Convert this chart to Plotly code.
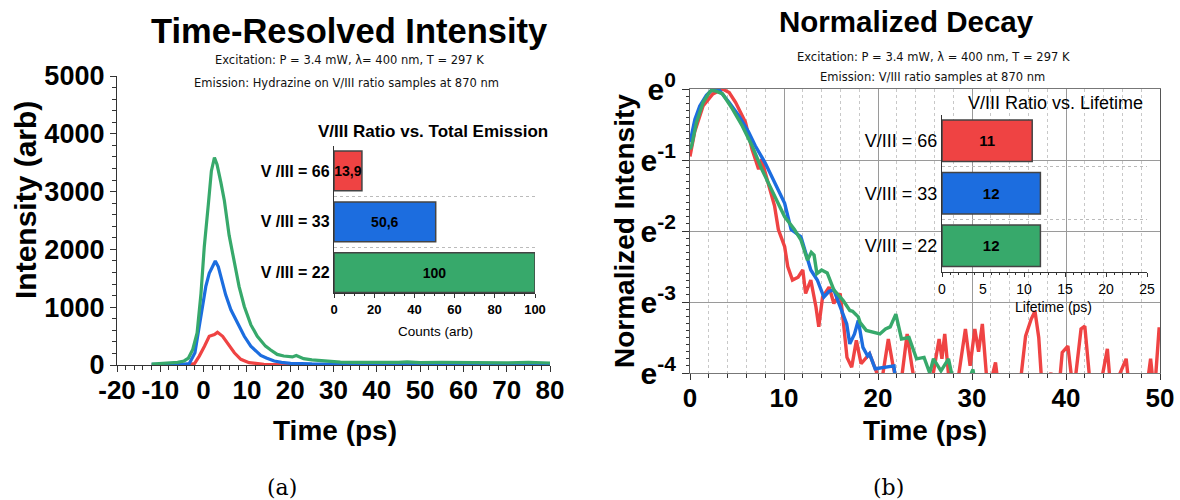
import plotly.graph_objects as go

W, H = 1180, 500
FONT = "Liberation Sans, Arial, sans-serif"
SUBFONT = "DejaVu Sans, Verdana, sans-serif"
RED = "#EF4343"
BLUE = "#1C6DDF"
GREEN = "#37A96B"

# ---------------- Panel (a): time-resolved intensity ----------------
a_t_red = [-12, -4, -2.1, -1, 0.2, 1.3, 2.5, 3.2, 4.4, 5.5, 7.1, 8.6, 10.5, 13.9, 20, 40, 60, 80]
a_i_red = [0, 2, 24, 154, 326, 497, 527, 565, 497, 372, 212, 98, 41, 12, 5, 3, 4, 5]

a_t_blue = [-12, -8, -5, -3.3, -2, -1, -0.2, 0.5, 1.3, 2.1, 2.7, 3.4, 4.1, 5.1, 6.3, 7.8, 9.4,
            10.9, 13.2, 14.5, 15.5, 16.3, 18, 20.1, 25, 30, 40, 60, 80]
a_i_blue = [10, 10, 12, 24, 212, 669, 1012, 1355, 1585, 1698, 1800, 1698, 1499, 1213, 955, 727, 497,
            326, 166, 120, 85, 69, 45, 29, 18, 12, 10, 8, 8]

a_t_green = [-12, -10, -8, -6, -4.5, -3.5, -2.5, -1.5, -0.6, 0.15, 1.1, 1.8, 2.5, 3.1, 4.0, 4.8, 5.9,
             7.1, 8.2, 9.4, 10.9, 12.4, 14.3, 15.5, 17, 18.5, 19.3, 20.5, 21.4, 22.3, 23.1, 25, 27.7,
             31.6, 35, 40, 45, 47, 50, 55, 60, 65, 70, 75, 80]
a_i_green = [15, 25, 35, 45, 70, 120, 270, 555, 1240, 2040, 2785, 3357, 3590, 3470, 3156, 2842, 2242,
             1756, 1355, 1012, 698, 497, 326, 260, 183, 155, 144, 140, 166, 135, 110, 90, 69,
             51, 45, 40, 45, 55, 42, 45, 38, 42, 36, 45, 35]

a_xticks = [-20, -10, 0, 10, 20, 30, 40, 50, 60, 70, 80]
a_xticktext = ["-20", "-10", "0", "10", "20", "30", "40", "50", "60", "70", "80"]
a_yticks = [0, 1000, 2000, 3000, 4000, 5000]

# inset (a)
ins_a_labels = ["V /III = 22", "V /III = 33", "V /III = 66"]
ins_a_values = [100, 50.6, 13.9]
ins_a_text = ["100", "50,6", "13,9"]

# ---------------- Panel (b): normalized decay (ln of normalized intensity) ----------------
b_t_red = [0.0, 0.5, 1.39, 2.43, 3.47, 4.17, 4.86, 5.9, 6.6, 7.3, 7.6, 8.3, 9.0, 9.4, 10.07, 10.4, 10.9,
           11.5, 12.0, 12.3, 12.85, 13.4, 13.7, 14.1, 14.8, 15.3, 15.97, 16.3, 16.7, 17.2, 17.7, 18.2,
           19.1, 19.8, 20.3, 21.1, 21.6, 22.3, 23.1, 23.6, 24.1, 25.5, 26.5, 26.8, 27.1, 27.7, 28.5,
           29.3, 29.8, 30.3, 30.7, 31.1, 31.7, 32.5, 32.9, 33.7, 35.0, 35.7, 36.3, 36.7, 37.1, 37.5,
           38.4, 39.2, 39.6, 40.2, 40.8, 41.6, 42.0, 42.6, 43.5, 44.4, 44.8, 46.4, 46.8, 48.5, 49.0,
           49.4, 49.9, 50.0]
b_ln_red = [-0.95, -0.6, -0.24, -0.07, 0.0, -0.05, -0.19, -0.47, -0.85, -1.13, -0.99, -1.32, -1.65, -1.98,
            -2.22, -2.5, -2.69, -2.65, -2.55, -2.88, -2.69, -3.07, -3.35, -2.93, -2.79, -3.02, -2.88,
            -3.26, -3.78, -3.92, -3.54, -3.87, -3.73, -3.97, -4.2, -3.52, -3.9, -4.3, -3.45, -3.9, -4.3,
            -4.3, -3.52, -3.8, -3.45, -4.3, -4.1, -3.38, -3.9, -3.38, -3.7, -3.31, -4.3, -3.85, -4.3,
            -4.2, -4.3, -3.48, -3.24, -3.13, -3.5, -4.3, -4.0, -4.3, -3.71, -3.62, -4.3, -3.38, -3.34,
            -4.2, -4.3, -3.66, -4.3, -3.8, -4.3, -4.3, -3.8, -4.3, -3.38, -3.38]

b_t_blue = [0.0, 0.52, 1.04, 1.74, 2.43, 3.13, 4.17, 5.21, 6.25, 6.94, 7.99, 9.03, 10.07, 10.76, 11.8,
            12.85, 13.54, 14.24, 14.8, 15.3, 15.97, 16.67, 17.0, 17.5, 17.9, 18.4, 18.9, 19.1, 19.7,
            20.9, 21.7, 22.0]
b_ln_blue = [-0.75, -0.43, -0.24, -0.09, 0.0, -0.02, -0.19, -0.38, -0.61, -0.8, -1.04, -1.32, -1.61,
             -1.98, -2.08, -2.55, -2.69, -2.93, -2.85, -2.83, -3.07, -3.31, -3.59, -3.45, -3.26, -3.64,
             -3.76, -3.73, -3.94, -3.92, -3.9, -4.3]

b_t_green = [0.0, 0.17, 0.69, 1.39, 2.0, 2.26, 2.78, 3.47, 4.51, 5.56, 6.6, 7.64, 8.68, 9.4, 10.07,
             11.11, 11.81, 12.5, 12.9, 13.2, 13.5, 14.0, 14.6, 15.3, 16.3, 17.0, 17.3, 17.9, 18.1,
             18.75, 19.7, 20.2, 20.8, 21.3, 21.9, 22.5, 23.3, 24.1, 24.9, 25.5, 25.9, 26.7, 27.5,
             27.9, 29.0, 30.1, 30.5]
b_ln_green = [-0.85, -0.8, -0.47, -0.19, -0.06, -0.02, -0.03, -0.07, -0.28, -0.52, -0.8, -1.13, -1.42,
              -1.62, -1.8, -1.98, -2.13, -2.41, -2.3, -2.34, -2.6, -2.55, -2.59, -2.83, -2.98, -3.12,
              -3.13, -3.21, -3.29, -3.4, -3.43, -3.45, -3.38, -3.35, -3.17, -3.52, -3.5, -3.8, -3.78,
              -4.0, -3.8, -3.97, -3.8, -4.05, -4.3, -3.95, -4.3]

b_xticks = [0, 10, 20, 30, 40, 50]
b_yticks = [0, -1, -2, -3, -4]
b_yticktext = ["e<sup>0</sup>", "e<sup>-1</sup>", "e<sup>-2</sup>", "e<sup>-3</sup>", "e<sup>-4</sup>"]

# inset (b)
ins_b_labels = ["V/III = 22", "V/III = 33", "V/III = 66"]
ins_b_values = [12, 12, 11]
ins_b_text = ["12", "12", "11"]

bar_colors = [GREEN, BLUE, RED]


# ---------------- helpers ----------------
def xdom(x0, x1):
    return [x0 / W, x1 / W]


def ydom(top, bottom):
    return [1 - bottom / H, 1 - top / H]


def px_x(x):
    return x / W


def px_y(y):
    return 1 - y / H


fig = go.Figure()

# main (a)
for t, v, c in [(a_t_red, a_i_red, RED), (a_t_blue, a_i_blue, BLUE), (a_t_green, a_i_green, GREEN)]:
    fig.add_trace(go.Scatter(x=t, y=v, mode="lines", line=dict(color=c, width=3.2),
                             xaxis="x", yaxis="y", showlegend=False))

# main (b)
for t, v, c in [(b_t_red, b_ln_red, RED), (b_t_blue, b_ln_blue, BLUE), (b_t_green, b_ln_green, GREEN)]:
    fig.add_trace(go.Scatter(x=t, y=v, mode="lines", line=dict(color=c, width=3.4),
                             xaxis="x2", yaxis="y2", showlegend=False))

# inset (a)
fig.add_trace(go.Bar(x=ins_a_values, y=ins_a_labels, orientation="h", width=0.78,
                     marker=dict(color=bar_colors, line=dict(color="#444", width=1.5)),
                     text=ins_a_text, textposition="inside", insidetextanchor="middle",
                     textangle=0, constraintext="none",
                     textfont=dict(family=FONT, size=14, color="black", weight="bold"),
                     xaxis="x3", yaxis="y3", showlegend=False, hoverinfo="skip"))

# inset (b)
fig.add_trace(go.Bar(x=ins_b_values, y=ins_b_labels, orientation="h", width=0.79,
                     marker=dict(color=bar_colors, line=dict(color="#444", width=1.5)),
                     text=ins_b_text, textposition="inside", insidetextanchor="middle",
                     textangle=0, constraintext="none",
                     textfont=dict(family=FONT, size=15, color="black", weight="bold"),
                     xaxis="x4", yaxis="y4", showlegend=False, hoverinfo="skip"))

big_tick = dict(family=FONT, size=26, color="black", weight="bold")
axcol = "#333"

fig.update_layout(
    template="none",
    width=W, height=H, autosize=False,
    margin=dict(l=0, r=0, t=0, b=0, pad=0),
    paper_bgcolor="white",
    plot_bgcolor="rgba(0,0,0,0)",
    font=dict(family=FONT, color="black"),
    xaxis=dict(domain=xdom(117, 550), anchor="y", range=[-20, 80], tickmode="array",
               tickvals=a_xticks, ticktext=a_xticktext, tickangle=0,
               ticks="outside", ticklen=6, tickwidth=1.3, tickcolor=axcol, ticklabelstandoff=-4,
               minor=dict(dtick=2, ticks="outside", ticklen=4, tickcolor=axcol),
               showline=True, linecolor=axcol, linewidth=1.3, showgrid=False, zeroline=False,
               tickfont=big_tick, automargin=False),
    yaxis=dict(domain=ydom(76, 365), anchor="x", range=[0, 5000], tickmode="array",
               tickvals=a_yticks, ticks="outside", ticklen=6, tickwidth=1.3, tickcolor=axcol,
               minor=dict(dtick=200, ticks="outside", ticklen=4, tickcolor=axcol),
               showline=True, linecolor=axcol, linewidth=1.3, showgrid=False, zeroline=False,
               tickfont=dict(family=FONT, size=27, color="black", weight="bold"),
               automargin=False),
    xaxis2=dict(domain=xdom(690, 1160), anchor="y2", range=[0, 50], tickmode="array",
                tickvals=b_xticks, tickangle=0,
                ticks="outside", ticklen=6, tickwidth=1.3, tickcolor=axcol, ticklabelstandoff=-4,
                minor=dict(dtick=2, ticks="outside", ticklen=4, tickcolor=axcol,
                           showgrid=True, gridcolor="#c8c8c8", griddash="dot", gridwidth=1),
                showline=True, linecolor="#777", linewidth=1.3, mirror=True,
                showgrid=True, gridcolor="#9a9a9a", gridwidth=1, zeroline=False,
                tickfont=big_tick, automargin=False),
    yaxis2=dict(domain=ydom(89, 373), anchor="x2", range=[-4, 0], tickmode="array",
                tickvals=b_yticks, ticktext=b_yticktext, ticks="outside", ticklen=7, tickwidth=1.3,
                tickcolor=axcol,
                minor=dict(dtick=0.1, ticks="outside", ticklen=3, tickcolor=axcol),
                showline=True, linecolor="#555", linewidth=1.3, mirror=True,
                showgrid=True, gridcolor="#9a9a9a", gridwidth=1, zeroline=False,
                tickfont=dict(family=FONT, size=30, color="black", weight="bold"),
                automargin=False),
    xaxis3=dict(domain=xdom(334, 535), anchor="y3", range=[0, 100], dtick=20, ticks="outside",
                ticklen=4, tickcolor=axcol, tickangle=0,
                minor=dict(dtick=5, ticks="outside", ticklen=2, tickcolor=axcol),
                showline=True, linecolor=axcol, linewidth=1.3, showgrid=False, zeroline=False,
                tickfont=dict(family=FONT, size=13, color="black", weight="bold"),
                automargin=False),
    yaxis3=dict(domain=ydom(146, 293), anchor="x3", type="category",
                categoryorder="array", categoryarray=ins_a_labels, range=[-0.4, 2.49],
                tickson="boundaries", ticks="", showgrid=True, gridcolor="#bbbbbb",
                griddash="dot", gridwidth=1,
                showline=True, linecolor=axcol, linewidth=1.3, zeroline=False,
                tickfont=dict(family=FONT, size=16, color="black", weight="bold"),
                automargin=False),
    xaxis4=dict(domain=xdom(942, 1147), anchor="y4", range=[0, 25], dtick=5, ticks="outside",
                ticklen=4, tickcolor=axcol, tickangle=0,
                minor=dict(dtick=1, ticks="outside", ticklen=2, tickcolor=axcol),
                showline=True, linecolor=axcol, linewidth=1.3, showgrid=False, zeroline=False,
                tickfont=dict(family=FONT, size=14, color="black"), automargin=False),
    yaxis4=dict(domain=ydom(115, 272), anchor="x4", type="category",
                categoryorder="array", categoryarray=ins_b_labels, range=[-0.5, 2.49],
                tickson="boundaries", ticks="", showgrid=True, gridcolor="#bbbbbb",
                griddash="dot", gridwidth=1,
                showline=True, linecolor=axcol, linewidth=1.3, zeroline=False,
                tickfont=dict(family=FONT, size=18, color="black"), automargin=False),
)

ann = []


def text_at(x, y, s, size, bold=False, angle=0, family=FONT, color="black"):
    ann.append(dict(x=px_x(x), y=px_y(y), xref="paper", yref="paper", text=s, showarrow=False,
                    xanchor="center", yanchor="middle", textangle=angle,
                    font=dict(family=family, size=size, color=color,
                              weight="bold" if bold else "normal")))


# panel (a) texts
text_at(349, 31, "Time-Resolved Intensity", 34.5, bold=True)
text_at(349, 60, "Excitation: P = 3.4 mW, \u03bb= 400 nm, T = 297 K", 11.5, family=SUBFONT, color="#111")
text_at(346, 83, "Emission: Hydrazine on V/III ratio samples at 870 nm", 11.5, family=SUBFONT, color="#111")
text_at(25, 200, "Intensity (arb)", 30, bold=True, angle=-90)
text_at(335, 430, "Time (ps)", 28, bold=True)
text_at(433, 131, "V/III Ratio vs. Total Emission", 17, bold=True)
text_at(435, 331, "Counts (arb)", 13.5)
text_at(282, 487, "(a)", 22, family="DejaVu Serif, Liberation Serif, serif")

# panel (b) texts
text_at(906, 21, "Normalized Decay", 29.5, bold=True)
text_at(933, 57, "Excitation: P = 3.4 mW, \u03bb = 400 nm, T = 297 K", 11.5, family=SUBFONT, color="#111")
text_at(932, 77, "Emission: V/III ratio samples at 870 nm", 11.5, family=SUBFONT, color="#111")
text_at(625, 231, "Normalized Intensity", 28, bold=True, angle=-90)
text_at(925, 430, "Time (ps)", 28, bold=True)
text_at(1055, 103, "V/III Ratio vs. Lifetime", 18)
text_at(1053, 307, "Lifetime (ps)", 14)
text_at(888, 487, "(b)", 22, family="DejaVu Serif, Liberation Serif, serif")

fig.update_layout(annotations=ann)

fig.write_html("out.html")
